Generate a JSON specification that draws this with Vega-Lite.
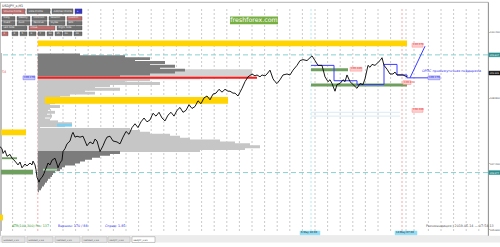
{
"$schema":"https://vega.github.io/schema/vega-lite/v6.json",
"width":488,"height":234,"autosize":"none",
"padding":{"left":0,"top":2,"right":12,"bottom":11},
"background":"white",
"config":{"view":{"stroke":"#a0a0a0","strokeWidth":0.8},"font":"DejaVu Sans"},
"resolve":{"scale":{"color":"independent","stroke":"independent"}},
"datasets":{
"line":[{"bar":0,"price":107.605},{"bar":2,"price":107.559},{"bar":3,"price":107.442},{"bar":5,"price":107.512},{"bar":7,"price":107.372},{"bar":10,"price":107.419},{"bar":12,"price":107.326},{"bar":15,"price":107.256},{"bar":18,"price":107.163},{"bar":20,"price":107.233},{"bar":22,"price":107.093},{"bar":25,"price":107.186},{"bar":27,"price":107.14},{"bar":30,"price":107.21},{"bar":32,"price":107.163},{"bar":33,"price":107.256},{"bar":35,"price":107.163},{"bar":36,"price":107.047},{"bar":37,"price":106.861},{"bar":39,"price":106.745},{"bar":40,"price":106.814},{"bar":42,"price":106.861},{"bar":44,"price":106.954},{"bar":45,"price":107.024},{"bar":47,"price":107.14},{"bar":48,"price":107.21},{"bar":50,"price":107.163},{"bar":52,"price":107.279},{"bar":55,"price":107.326},{"bar":57,"price":107.186},{"bar":58,"price":107.093},{"bar":60,"price":107.21},{"bar":62,"price":107.279},{"bar":63,"price":107.489},{"bar":65,"price":107.559},{"bar":67,"price":107.675},{"bar":70,"price":107.745},{"bar":72,"price":107.907},{"bar":73,"price":107.954},{"bar":75,"price":107.838},{"bar":77,"price":107.861},{"bar":80,"price":107.838},{"bar":83,"price":107.861},{"bar":85,"price":107.745},{"bar":87,"price":107.628},{"bar":90,"price":107.721},{"bar":93,"price":107.675},{"bar":95,"price":107.791},{"bar":97,"price":107.745},{"bar":100,"price":107.489},{"bar":103,"price":107.628},{"bar":105,"price":107.745},{"bar":107,"price":107.838},{"bar":110,"price":107.861},{"bar":113,"price":107.745},{"bar":117,"price":107.721},{"bar":120,"price":107.675},{"bar":123,"price":107.838},{"bar":126,"price":107.977},{"bar":129,"price":107.907},{"bar":132,"price":108.07},{"bar":135,"price":108.163},{"bar":138,"price":108.07},{"bar":141,"price":108.21},{"bar":144,"price":108.303},{"bar":147,"price":108.21},{"bar":150,"price":108.256},{"bar":153,"price":108.419},{"bar":156,"price":108.349},{"bar":159,"price":108.442},{"bar":162,"price":108.303},{"bar":165,"price":108.233},{"bar":168,"price":108.373},{"bar":171,"price":108.442},{"bar":174,"price":108.349},{"bar":177,"price":108.489},{"bar":180,"price":108.559},{"bar":183,"price":108.442},{"bar":186,"price":108.489},{"bar":189,"price":108.628},{"bar":192,"price":108.535},{"bar":195,"price":108.582},{"bar":198,"price":108.721},{"bar":201,"price":108.651},{"bar":204,"price":108.791},{"bar":207,"price":108.838},{"bar":210,"price":108.745},{"bar":213,"price":108.884},{"bar":216,"price":108.907},{"bar":219,"price":109.001},{"bar":222,"price":108.931},{"bar":225,"price":109.001},{"bar":228,"price":108.954},{"bar":230,"price":108.954},{"bar":233,"price":108.907},{"bar":235,"price":108.907},{"bar":238,"price":108.838},{"bar":240,"price":108.931},{"bar":242,"price":109.024},{"bar":245,"price":109.186},{"bar":248,"price":109.303},{"bar":252,"price":109.372},{"bar":255,"price":109.326},{"bar":257,"price":109.349},{"bar":260,"price":109.303},{"bar":262,"price":109.349},{"bar":265,"price":109.326},{"bar":267,"price":109.372},{"bar":270,"price":109.466},{"bar":273,"price":109.256},{"bar":275,"price":109.186},{"bar":277,"price":109.14},{"bar":280,"price":109.233},{"bar":283,"price":109.349},{"bar":287,"price":109.372},{"bar":290,"price":109.349},{"bar":293,"price":109.466},{"bar":297,"price":109.582},{"bar":300,"price":109.698},{"bar":303,"price":109.721},{"bar":307,"price":109.698},{"bar":310,"price":109.768},{"bar":312,"price":109.814},{"bar":315,"price":109.698},{"bar":318,"price":109.582},{"bar":322,"price":109.582},{"bar":325,"price":109.303},{"bar":328,"price":109.186},{"bar":330,"price":109.233},{"bar":332,"price":109.14},{"bar":335,"price":108.954},{"bar":337,"price":109.117},{"bar":340,"price":109.14},{"bar":343,"price":109.233},{"bar":345,"price":109.186},{"bar":347,"price":109.349},{"bar":350,"price":109.186},{"bar":353,"price":109.117},{"bar":355,"price":109.07},{"bar":357,"price":109.024},{"bar":360,"price":109.14},{"bar":363,"price":109.117},{"bar":365,"price":109.256},{"bar":368,"price":109.582},{"bar":370,"price":109.535},{"bar":372,"price":109.605},{"bar":375,"price":109.582},{"bar":378,"price":109.652},{"bar":380,"price":109.698},{"bar":382,"price":109.768},{"bar":384,"price":109.582},{"bar":387,"price":109.489},{"bar":390,"price":109.372},{"bar":393,"price":109.372},{"bar":395,"price":109.419},{"bar":397,"price":109.349},{"bar":400,"price":109.349},{"bar":403,"price":109.349},{"bar":405,"price":109.326},{"bar":407,"price":109.303}],
"prof":[{"grp":"dA","p":109.837,"e":80},{"grp":"dA","p":109.791,"e":125},{"grp":"dA","p":109.745,"e":150},{"grp":"dA","p":109.698,"e":135},{"grp":"dA","p":109.652,"e":165},{"grp":"dA","p":109.605,"e":150},{"grp":"dA","p":109.559,"e":175},{"grp":"dA","p":109.512,"e":160},{"grp":"dA","p":109.466,"e":185},{"grp":"dA","p":109.419,"e":175},{"grp":"dA","p":109.372,"e":150},{"grp":"dA","p":109.326,"e":120},
{"grp":"lA","p":109.279,"e":200},{"grp":"lA","p":109.233,"e":150},{"grp":"lA","p":109.186,"e":125},{"grp":"lA","p":109.14,"e":160},{"grp":"lA","p":109.093,"e":110},{"grp":"lA","p":109.047,"e":95},{"grp":"lA","p":109.001,"e":120},{"grp":"lA","p":108.954,"e":85},{"grp":"lA","p":108.907,"e":95},{"grp":"lA","p":108.861,"e":70},{"grp":"lA","p":108.814,"e":60},{"grp":"lA","p":108.768,"e":80},{"grp":"lA","p":108.721,"e":65},{"grp":"lA","p":108.675,"e":55},{"grp":"lA","p":108.628,"e":50},{"grp":"lA","p":108.582,"e":60},{"grp":"lA","p":108.535,"e":50},{"grp":"lA","p":108.489,"e":48},{"grp":"lA","p":108.442,"e":55},{"grp":"lA","p":108.396,"e":47},{"grp":"lA","p":108.349,"e":52},{"grp":"lA","p":108.303,"e":45},{"grp":"lA","p":108.256,"e":50},{"grp":"lA","p":108.21,"e":58},{"grp":"lA","p":108.163,"e":72},{"grp":"lA","p":108.117,"e":65},{"grp":"lA","p":108.07,"e":40},
{"grp":"lB","p":108.024,"e":130},{"grp":"lB","p":107.977,"e":140},{"grp":"lB","p":107.931,"e":150},{"grp":"lB","p":107.884,"e":170},{"grp":"lB","p":107.838,"e":180},{"grp":"lB","p":107.791,"e":190},{"grp":"lB","p":107.745,"e":220},{"grp":"lB","p":107.698,"e":235},{"grp":"lB","p":107.652,"e":250},{"grp":"lB","p":107.605,"e":260},{"grp":"lB","p":107.559,"e":245},{"grp":"lB","p":107.512,"e":200},
{"grp":"dB","p":107.466,"e":120},{"grp":"dB","p":107.419,"e":110},{"grp":"dB","p":107.372,"e":100},{"grp":"dB","p":107.326,"e":92},{"grp":"dB","p":107.279,"e":85},{"grp":"dB","p":107.233,"e":80},{"grp":"dB","p":107.186,"e":75},{"grp":"dB","p":107.14,"e":65},{"grp":"dB","p":107.093,"e":62},{"grp":"dB","p":107.047,"e":60},{"grp":"dB","p":107.0,"e":55},{"grp":"dB","p":106.954,"e":53},{"grp":"dB","p":106.907,"e":52},{"grp":"dB","p":106.861,"e":50},{"grp":"dB","p":106.814,"e":48},{"grp":"dB","p":106.768,"e":47},{"grp":"dB","p":106.721,"e":45},{"grp":"dB","p":106.675,"e":44},{"grp":"dB","p":106.628,"e":42},{"grp":"dB","p":106.582,"e":41},{"grp":"dB","p":106.535,"e":39}],
"zones":[{"kind":"poc","x1":37.8,"x2":252,"p1":109.489,"p2":109.279},{"kind":"strip","x1":0,"x2":2,"p1":109.884,"p2":105.558},{"kind":"yellow","x1":37.8,"x2":407,"p1":110.186,"p2":110.047},{"kind":"yellow","x1":45,"x2":228,"p1":108.814,"p2":108.651},{"kind":"yellow","x1":1,"x2":26,"p1":108.024,"p2":107.884},{"kind":"yellow","x1":0,"x2":3,"p1":105.954,"p2":105.814},{"kind":"green","x1":311,"x2":348,"p1":109.512,"p2":109.442},{"kind":"green","x1":311,"x2":407,"p1":109.14,"p2":109.07},{"kind":"green","x1":2,"x2":17,"p1":107.349,"p2":107.303},{"kind":"green","x1":1,"x2":33,"p1":107.047,"p2":106.931},{"kind":"lgreen","x1":43,"x2":57,"p1":107.07,"p2":107.024},{"kind":"cyan","x1":57,"x2":72,"p1":108.163,"p2":108.093},{"kind":"wm","x1":230,"x2":278,"p1":110.768,"p2":110.582},{"kind":"tabbar","x1":0,"x2":500,"p1":105.442,"p2":105.28}],
"grid":[{"bar":12.6,"kind":"g"},{"bar":25.2,"kind":"g"},{"bar":37.8,"kind":"r"},{"bar":50.4,"kind":"g"},{"bar":63,"kind":"g"},{"bar":75.6,"kind":"g"},{"bar":88.2,"kind":"g"},{"bar":100.8,"kind":"g"},{"bar":113.4,"kind":"g"},{"bar":126,"kind":"g"},{"bar":138.6,"kind":"g"},{"bar":151.2,"kind":"g"},{"bar":163.8,"kind":"g"},{"bar":176.4,"kind":"g"},{"bar":189,"kind":"g"},{"bar":201.6,"kind":"g"},{"bar":214.2,"kind":"g"},{"bar":226.8,"kind":"g"},{"bar":239.4,"kind":"g"},{"bar":252,"kind":"g"},{"bar":264.6,"kind":"g"},{"bar":277.2,"kind":"g"},{"bar":289.8,"kind":"g"},{"bar":302.4,"kind":"g"},{"bar":311,"kind":"c"},{"bar":315,"kind":"g"},{"bar":327.6,"kind":"g"},{"bar":340.2,"kind":"g"},{"bar":352.8,"kind":"g"},{"bar":365.4,"kind":"g"},{"bar":378,"kind":"g"},{"bar":390.6,"kind":"g"},{"bar":402,"kind":"r"},{"bar":406,"kind":"g"},{"bar":414,"kind":"g"},{"bar":428.4,"kind":"g"},{"bar":441,"kind":"g"},{"bar":453.6,"kind":"g"},{"bar":466.2,"kind":"g"},{"bar":478.8,"kind":"g"}],
"blue":[{"s":"a","o":1,"bar":311,"price":109.582},{"s":"a","o":2,"bar":334,"price":109.582},{"s":"a","o":3,"bar":334,"price":109.209},{"s":"a","o":4,"bar":357,"price":109.209},{"s":"a","o":5,"bar":357,"price":109.117},{"s":"a","o":6,"bar":384,"price":109.117},{"s":"a","o":7,"bar":384,"price":109.605},{"s":"a","o":8,"bar":397,"price":109.605},{"s":"a","o":9,"bar":397,"price":109.349},{"s":"a","o":10,"bar":407,"price":109.349},{"s":"a","o":11,"bar":407,"price":109.279},{"s":"a","o":12,"bar":428,"price":109.279},{"s":"b","o":1,"bar":410,"price":109.279},{"s":"b","o":2,"bar":425,"price":110.047}],
"tags":[{"kind":"blue","x1":23,"x2":35,"p1":109.326,"p2":109.233,"t":"109.279"},{"kind":"blue","x1":428,"x2":440,"p1":109.326,"p2":109.233,"t":"109.279"},{"kind":"pink","x1":412,"x2":423,"p1":110.116,"p2":110.024,"t":"110.070"},{"kind":"pink","x1":350,"x2":362,"p1":109.535,"p2":109.442,"t":"109.489"},{"kind":"pink","x1":403,"x2":411,"p1":109.209,"p2":109.117,"t":"109.163"},{"kind":"pink","x1":412,"x2":423,"p1":108.535,"p2":108.442,"t":"108.489"},{"kind":"teal","x1":489,"x2":520,"p1":109.884,"p2":109.791,"t":"109.837"},{"kind":"black","x1":489,"x2":520,"p1":109.442,"p2":109.349,"t":"109.395"},{"kind":"teal","x1":489,"x2":520,"p1":107.024,"p2":106.931,"t":"106.977"},{"kind":"xlab","x1":300,"x2":320,"p1":105.558,"p2":105.465,"t":"6 May 10:00"},{"kind":"xlab","x1":395,"x2":417,"p1":105.558,"p2":105.465,"t":"14 May 07:00"}],
"tabs":[{"kind":"tab","x1":2,"x2":25,"t":"EURUSD_x,H1"},{"kind":"tab","x1":27,"x2":53,"t":"EURUSD_x,H4"},{"kind":"tab","x1":55,"x2":80,"t":"GBPUSD_x,H1"},{"kind":"tab","x1":82,"x2":107,"t":"GBPUSD_x,H4"},{"kind":"tab","x1":108,"x2":130,"t":"USDJPY_x,H4"},{"kind":"tabon","x1":132,"x2":155,"t":"USDJPY_x,H1"}],
"buttons":[{"st":"on","x1":2,"x2":25,"p1":110.954,"p2":110.838,"t":"Volume Profile"},{"st":"off","x1":27,"x2":50,"p1":110.954,"p2":110.838,"t":"Hide Profile"},{"st":"off","x1":52,"x2":73,"p1":110.954,"p2":110.838,"t":"Add/Del Profile"},{"st":"blue","x1":75,"x2":82,"p1":110.954,"p2":110.838,"t":"+"},
{"st":"off","x1":2,"x2":15,"p1":110.768,"p2":110.675,"t":"Daily"},{"st":"off","x1":17,"x2":30,"p1":110.768,"p2":110.675,"t":"Weekly"},{"st":"off","x1":32,"x2":47,"p1":110.768,"p2":110.675,"t":"Contract"},{"st":"off","x1":49,"x2":65,"p1":110.768,"p2":110.675,"t":"Session"},{"st":"on","x1":67,"x2":82,"p1":110.768,"p2":110.675,"t":"Custom"},
{"st":"off","x1":2,"x2":15,"p1":110.652,"p2":110.559,"t":"Fixed"},{"st":"off","x1":17,"x2":30,"p1":110.652,"p2":110.559,"t":"Auto"},{"st":"off","x1":32,"x2":47,"p1":110.652,"p2":110.559,"t":"Remove"},{"st":"off","x1":49,"x2":65,"p1":110.652,"p2":110.559,"t":"Styles"},{"st":"off","x1":67,"x2":82,"p1":110.652,"p2":110.559,"t":"Edit"},
{"st":"off","x1":2,"x2":27,"p1":110.535,"p2":110.442,"t":"Left Side"},{"st":"on","x1":29,"x2":55,"p1":110.535,"p2":110.442,"t":"Close"},{"st":"off","x1":57,"x2":82,"p1":110.535,"p2":110.442,"t":"Right Side"},
{"st":"on","x1":2,"x2":8,"p1":110.396,"p2":110.303,"t":"1"},{"st":"off","x1":12,"x2":18,"p1":110.396,"p2":110.303,"t":"3"},{"st":"off","x1":20,"x2":27,"p1":110.396,"p2":110.303,"t":"5"},{"st":"off","x1":29,"x2":36,"p1":110.396,"p2":110.303,"t":"6"},{"st":"off","x1":38,"x2":45,"p1":110.396,"p2":110.303,"t":"7"},{"st":"off","x1":47,"x2":53,"p1":110.396,"p2":110.303,"t":"10"},{"st":"off","x1":55,"x2":62,"p1":110.396,"p2":110.303,"t":"15"},{"st":"off","x1":63,"x2":72,"p1":110.396,"p2":110.303,"t":"20"},{"st":"off","x1":74,"x2":82,"p1":110.396,"p2":110.303,"t":"24"}],
"notes":[{"kind":"title","bar":2,"p":111.02,"t":"USDJPY_x,H1"},{"kind":"pink","bar":2,"p":109.419,"t":"54"},{"kind":"blue","bar":422,"p":109.442,"t":"ОРПС промежуточная поддержка"},{"kind":"green","bar":12,"p":105.675,"t":"ATR(100,300) Pts: 137"},{"kind":"blue","bar":58,"p":105.675,"t":"Вершин: 170 / 88"},{"kind":"blue","bar":105,"p":105.675,"t":"Спред: 1.85"},{"kind":"gray","bar":426,"p":105.675,"t":"Рекомендация | 2019.05.14 — 07:54:13"}],
"teal":[{"p":109.837},{"p":106.977}],
"hl":[{"x1":37.8,"x2":257,"p":109.279,"kind":"red"},{"x1":311,"x2":400,"p":108.442,"kind":"faint"},{"x1":311,"x2":400,"p":108.349,"kind":"faint"}],
"wmtext":[{"bar":254,"p":110.675,"t":"freshforex.com"}]
},
"layer":[
{"data":{"name":"grid"},"mark":{"type":"rule","strokeDash":[2,2],"strokeWidth":0.8},
 "encoding":{"x":{"field":"bar","type":"quantitative","scale":{"domain":[0,488],"nice":false,"zero":false},
   "axis":{"orient":"bottom","title":null,"grid":false,"values":[1,17.2,33.4,49.6,65.8,82,98.2,114.4,130.6,146.8,163,179.2,195.4,211.6,227.8,244,260.2,276.4,292.6,308.8,325,341.2,357.4,373.6,389.8,406,422.2,438.4,454.6,470.8],
   "labelExpr":"['17 Apr 2019','17 Apr 16:00','18 Apr 08:00','19 Apr 00:00','19 Apr 16:00','22 Apr 09:00','23 Apr 01:00','23 Apr 17:00','24 Apr 09:00','25 Apr 01:00','25 Apr 17:00','26 Apr 09:00','29 Apr 02:00','29 Apr 18:00','30 Apr 10:00','1 May 02:00','1 May 18:00','2 May 10:00','3 May 02:00','3 May 18:00','6 May 11:00','7 May 03:00','7 May 19:00','8 May 11:00','9 May 03:00','9 May 19:00','10 May 11:00','13 May 04:00','13 May 20:00','14 May 12:00'][round((datum.value-1)/16.2)]",
   "labelFont":"Liberation Sans","labelFontSize":2.3,"labelAlign":"left","labelBaseline":"top","labelPadding":0,"tickSize":0.8,"tickColor":"#888888","domainColor":"#999999","labelColor":"#333333","labelOverlap":false,"labelFlush":false,"labelBound":false}},
 "y":{"datum":105.558,"type":"quantitative","scale":{"domain":[105.558,111.0],"nice":false,"zero":false},
   "axis":{"orient":"right","title":null,"grid":false,"values":[105.6,105.8,106.0,106.2,106.4,106.6,106.8,107.0,107.2,107.4,107.6,107.8,108.0,108.2,108.4,108.6,108.8,109.0,109.2,109.4,109.6,109.8,110.0,110.2,110.4,110.6,110.8,111.0],
   "format":".3f","labelFontSize":2.4,"labelColor":"#444444","tickSize":1,"tickColor":"#888888","domainColor":"#999999","labelPadding":0.5,"labelOverlap":false,"labelFlush":false,"labelBound":false}},
 "y2":{"datum":111.0},
 "color":{"field":"kind","type":"nominal","scale":{"domain":["g","r","c"],"range":["#bdbdbd","#ff8f8f","#9fe4f2"]},"legend":null}}},
{"data":{"name":"teal"},"mark":{"type":"rule","strokeDash":[5,3],"strokeWidth":0.9,"color":"#7ccccc"},
 "encoding":{"y":{"field":"p","type":"quantitative","scale":{"domain":[105.558,111.0],"nice":false,"zero":false}}}},
{"data":{"name":"zones"},"transform":[{"filter":"datum.kind=='poc'||datum.kind=='strip'"}],"mark":{"type":"rect"},
 "encoding":{"x":{"field":"x1","type":"quantitative","scale":{"domain":[0,488],"nice":false,"zero":false}},"x2":{"field":"x2"},
 "y":{"field":"p1","type":"quantitative","scale":{"domain":[105.558,111.0],"nice":false,"zero":false}},"y2":{"field":"p2"},
 "color":{"field":"kind","type":"nominal","scale":{"domain":["poc","strip"],"range":["#d2d2d2","#bdbdbd"]},"legend":null}}},
{"data":{"name":"prof"},"mark":{"type":"bar","orient":"horizontal","size":2.9},
 "encoding":{"y":{"field":"p","type":"quantitative","scale":{"domain":[105.558,111.0],"nice":false,"zero":false}},
 "x":{"field":"e","type":"quantitative","scale":{"domain":[0,488],"nice":false,"zero":false}},"x2":{"datum":37.8},
 "color":{"field":"grp","type":"nominal","scale":{"domain":["lA","dA","lB","dB"],"range":["#c6c6c6","#7c7c7c","#c6c6c6","#7c7c7c"]},"legend":null}}},
{"data":{"name":"zones"},"transform":[{"filter":"datum.kind!='poc'&&datum.kind!='strip'"}],"mark":{"type":"rect"},
 "encoding":{"x":{"field":"x1","type":"quantitative","scale":{"domain":[0,488],"nice":false,"zero":false}},"x2":{"field":"x2"},
 "y":{"field":"p1","type":"quantitative","scale":{"domain":[105.558,111.0],"nice":false,"zero":false}},"y2":{"field":"p2"},
 "color":{"field":"kind","type":"nominal","scale":{"domain":["yellow","green","lgreen","cyan","wm","tabbar"],"range":["#ffd400","#6f9f5f","#9fd49f","#7fd0f0","#77b041","#ececec"]},"legend":null}}},
{"data":{"name":"hl"},"mark":{"type":"rule"},
 "encoding":{"x":{"field":"x1","type":"quantitative","scale":{"domain":[0,488],"nice":false,"zero":false}},"x2":{"field":"x2"},
 "y":{"field":"p","type":"quantitative","scale":{"domain":[105.558,111.0],"nice":false,"zero":false}},
 "color":{"field":"kind","type":"nominal","scale":{"domain":["red","faint"],"range":["#ff1a1a","#cfe6f2"]},"legend":null},
 "strokeWidth":{"field":"kind","type":"nominal","scale":{"domain":["red","faint"],"range":[2,0.8]},"legend":null}}},
{"data":{"name":"blue"},"mark":{"type":"line","color":"#3c3cff","strokeWidth":1},
 "encoding":{"x":{"field":"bar","type":"quantitative","scale":{"domain":[0,488],"nice":false,"zero":false}},
 "y":{"field":"price","type":"quantitative","scale":{"domain":[105.558,111.0],"nice":false,"zero":false}},
 "detail":{"field":"s","type":"nominal"},"order":{"field":"o","type":"quantitative"}}},
{"data":{"name":"line"},"mark":{"type":"line","color":"#000000","strokeWidth":0.9},
 "encoding":{"x":{"field":"bar","type":"quantitative","scale":{"domain":[0,488],"nice":false,"zero":false}},
 "y":{"field":"price","type":"quantitative","scale":{"domain":[105.558,111.0],"nice":false,"zero":false}}}},
{"data":{"name":"tags"},"mark":{"type":"rect","strokeWidth":0.5},
 "encoding":{"x":{"field":"x1","type":"quantitative","scale":{"domain":[0,488],"nice":false,"zero":false}},"x2":{"field":"x2"},
 "y":{"field":"p1","type":"quantitative","scale":{"domain":[105.558,111.0],"nice":false,"zero":false}},"y2":{"field":"p2"},
 "color":{"field":"kind","type":"nominal","scale":{"domain":["blue","pink","teal","black","xlab"],"range":["#c9c9ff","#ffd0d0","#2b8f8f","#111111","#8fdcf5"]},"legend":null},
 "stroke":{"field":"kind","type":"nominal","scale":{"domain":["blue","pink","teal","black","xlab"],"range":["#6a6aff","#ff8a8a","#2b8f8f","#111111","#8fdcf5"]},"legend":null}}},
{"data":{"name":"tags"},"transform":[{"filter":"datum.x1 < 480"}],"mark":{"type":"text","fontSize":2.6,"align":"left","baseline":"bottom","dx":1,"dy":-0.6},
 "encoding":{"x":{"field":"x1","type":"quantitative","scale":{"domain":[0,488],"nice":false,"zero":false}},
 "y":{"field":"p2","type":"quantitative","scale":{"domain":[105.558,111.0],"nice":false,"zero":false}},
 "text":{"field":"t"},
 "color":{"field":"kind","type":"nominal","scale":{"domain":["blue","pink","xlab"],"range":["#2222cc","#dd3333","#1a1a1a"]},"legend":null}}},
{"data":{"name":"tags"},"transform":[{"filter":"datum.x1 > 480"}],"mark":{"type":"text","fontSize":2.3,"align":"left","baseline":"bottom","dx":0.5,"dy":-0.6,"color":"#ffffff"},
 "encoding":{"x":{"field":"x1","type":"quantitative","scale":{"domain":[0,488],"nice":false,"zero":false}},
 "y":{"field":"p2","type":"quantitative","scale":{"domain":[105.558,111.0],"nice":false,"zero":false}},
 "text":{"field":"t"}}},
{"data":{"name":"tabs"},"mark":{"type":"rect","strokeWidth":0.5},
 "encoding":{"x":{"field":"x1","type":"quantitative","scale":{"domain":[0,488],"nice":false,"zero":false}},"x2":{"field":"x2"},
 "y":{"datum":105.419,"type":"quantitative","scale":{"domain":[105.558,111.0],"nice":false,"zero":false}},"y2":{"datum":105.28},
 "color":{"field":"kind","type":"nominal","scale":{"domain":["tab","tabon"],"range":["#e2e2e2","#ffffff"]},"legend":null},
 "stroke":{"field":"kind","type":"nominal","scale":{"domain":["tab","tabon"],"range":["#b0b0b0","#909090"]},"legend":null}}},
{"data":{"name":"tabs"},"mark":{"type":"text","fontSize":2.2,"align":"left","baseline":"alphabetic","dx":1.5},
 "encoding":{"x":{"field":"x1","type":"quantitative","scale":{"domain":[0,488],"nice":false,"zero":false}},
 "y":{"datum":105.31,"type":"quantitative","scale":{"domain":[105.558,111.0],"nice":false,"zero":false}},
 "text":{"field":"t"},
 "color":{"field":"kind","type":"nominal","scale":{"domain":["tab","tabon"],"range":["#555555","#222222"]},"legend":null}}},
{"data":{"name":"buttons"},"mark":{"type":"rect","stroke":"#4a4a4a","strokeWidth":0.4},
 "encoding":{"x":{"field":"x1","type":"quantitative","scale":{"domain":[0,488],"nice":false,"zero":false}},"x2":{"field":"x2"},
 "y":{"field":"p1","type":"quantitative","scale":{"domain":[105.558,111.0],"nice":false,"zero":false}},"y2":{"field":"p2"},
 "color":{"field":"st","type":"nominal","scale":{"domain":["off","on","blue"],"range":["#6f6f6f","#c26b6b","#3434d0"]},"legend":null}}},
{"data":{"name":"buttons"},"mark":{"type":"text","fontSize":2.5,"align":"left","baseline":"bottom","dx":1.5,"dy":-0.6,"color":"#f0f0f0"},
 "encoding":{"x":{"field":"x1","type":"quantitative","scale":{"domain":[0,488],"nice":false,"zero":false}},
 "y":{"field":"p2","type":"quantitative","scale":{"domain":[105.558,111.0],"nice":false,"zero":false}},
 "text":{"field":"t"}}},
{"data":{"name":"notes"},"mark":{"type":"text","fontSize":3.3,"align":"left","baseline":"middle"},
 "encoding":{"x":{"field":"bar","type":"quantitative","scale":{"domain":[0,488],"nice":false,"zero":false}},
 "y":{"field":"p","type":"quantitative","scale":{"domain":[105.558,111.0],"nice":false,"zero":false}},
 "text":{"field":"t"},
 "color":{"field":"kind","type":"nominal","scale":{"domain":["title","pink","blue","green","gray"],"range":["#333333","#e06060","#2a2aee","#2e9a2e","#555555"]},"legend":null}}},
{"data":{"name":"wmtext"},"mark":{"type":"text","fontSize":6.3,"align":"center","baseline":"middle","color":"#ffffff"},
 "encoding":{"x":{"field":"bar","type":"quantitative","scale":{"domain":[0,488],"nice":false,"zero":false}},
 "y":{"field":"p","type":"quantitative","scale":{"domain":[105.558,111.0],"nice":false,"zero":false}},
 "text":{"field":"t"}}}
]
}
